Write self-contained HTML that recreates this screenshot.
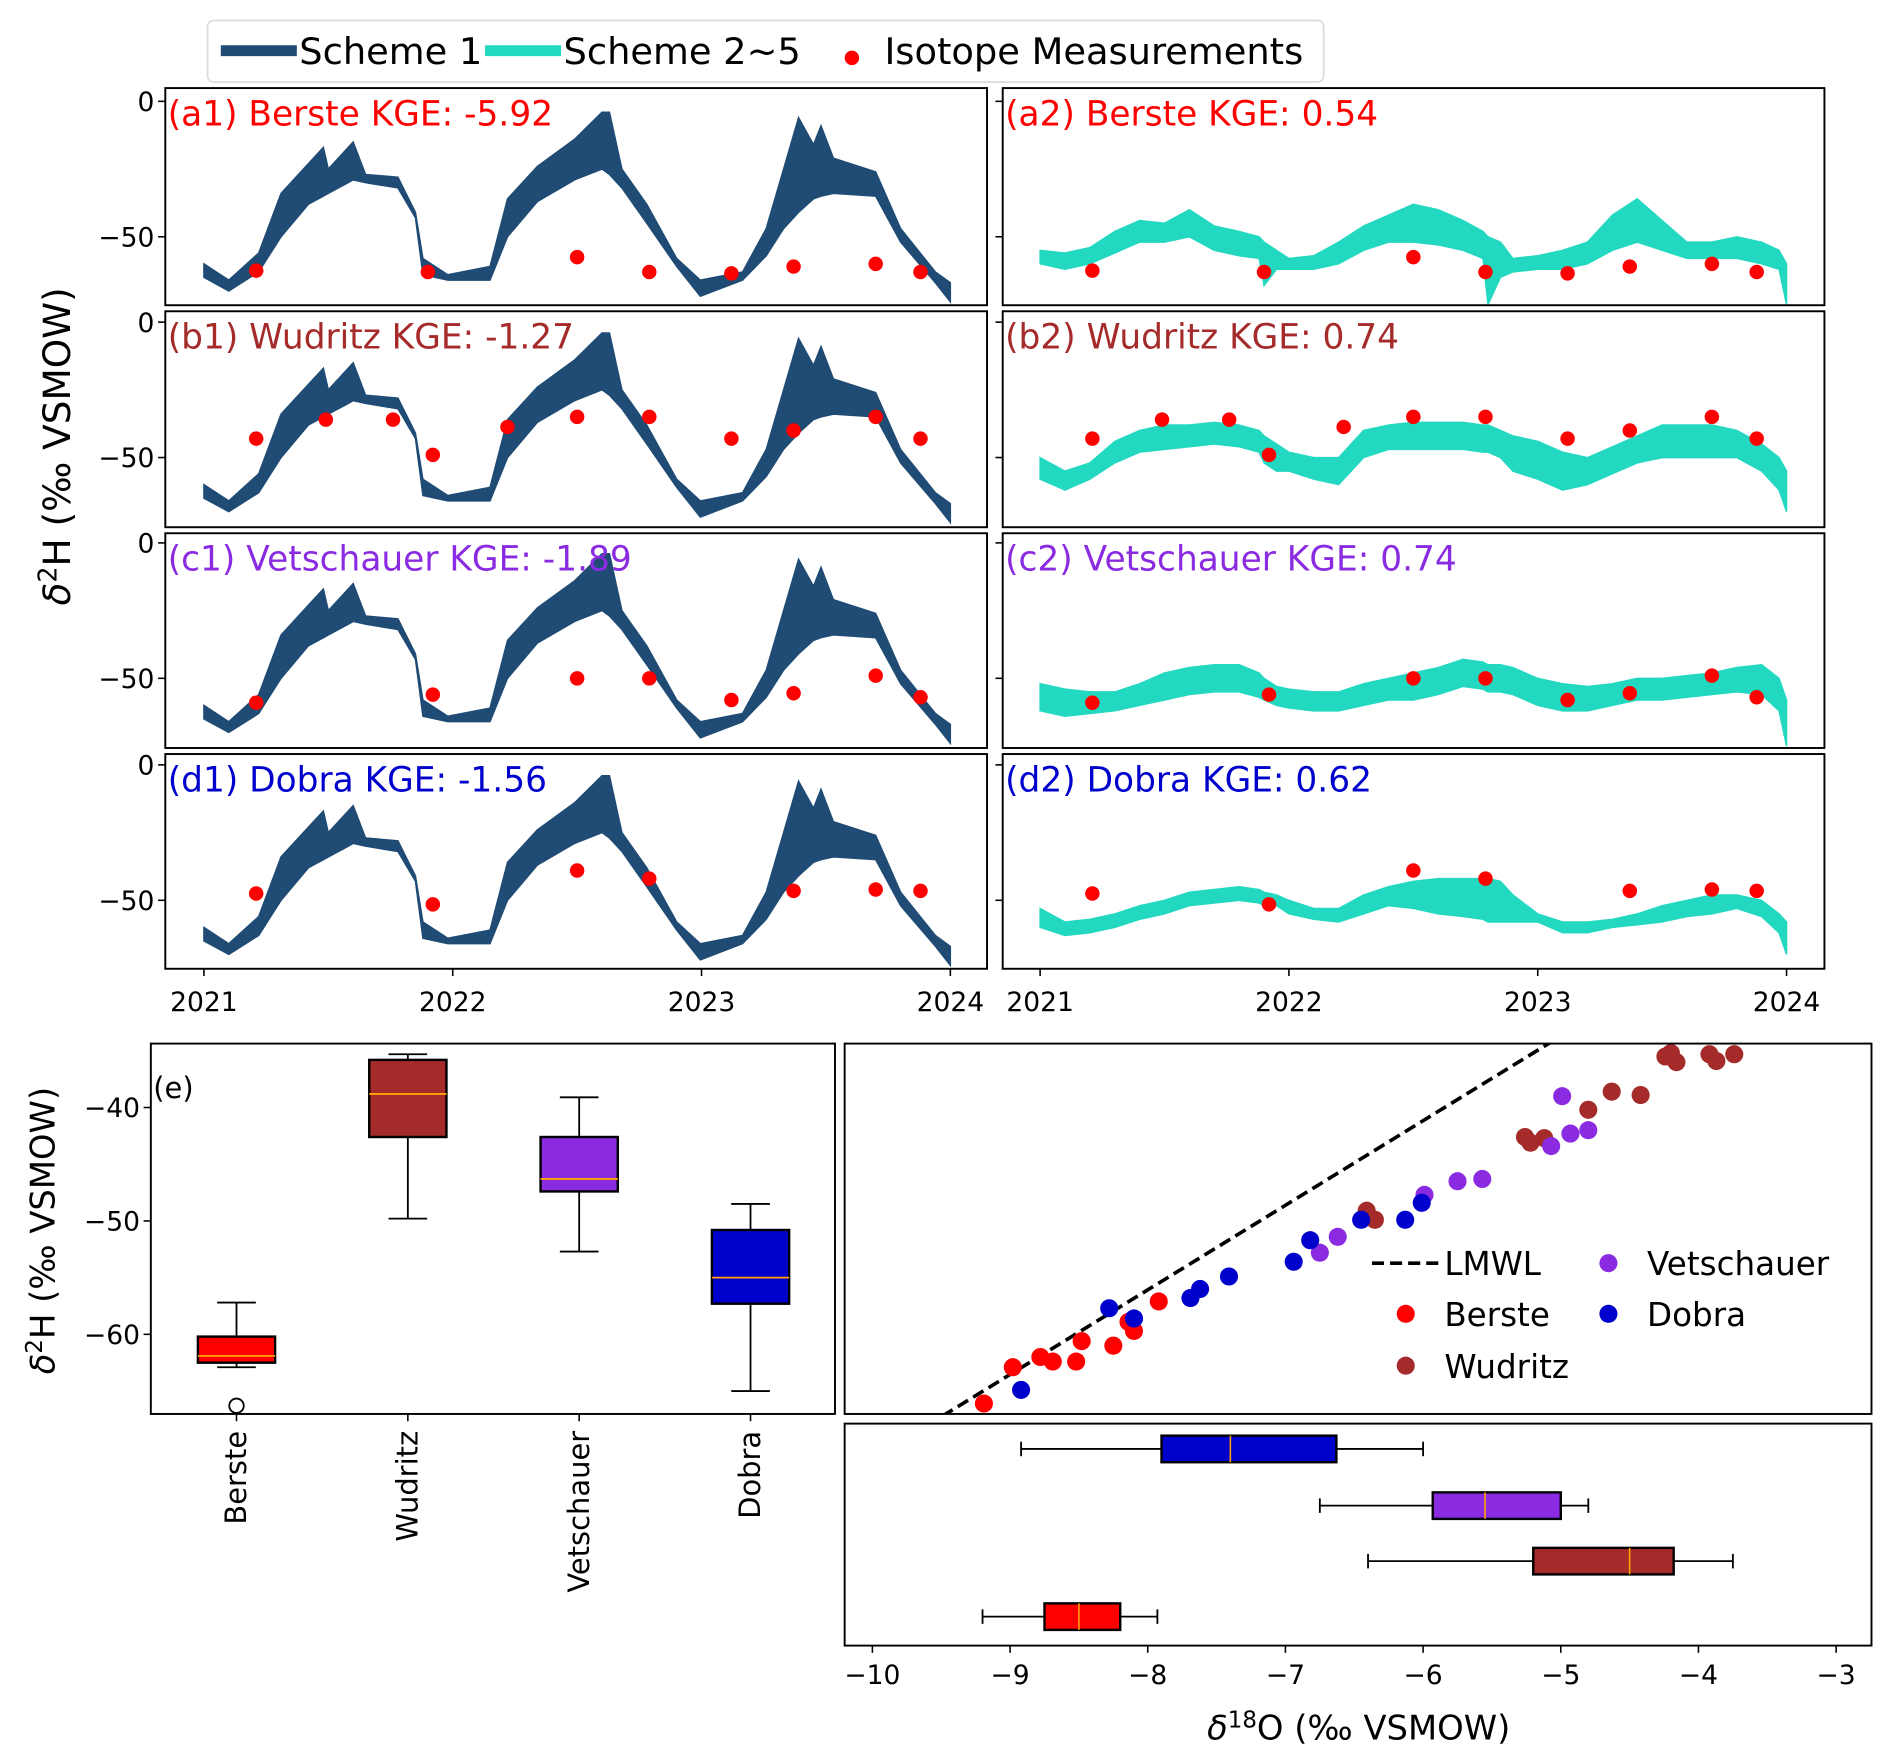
<!DOCTYPE html>
<html><head><meta charset="utf-8"><style>
html,body{margin:0;padding:0;background:#fff;}
svg{display:block;font-family:"DejaVu Sans","Liberation Sans",sans-serif;}
</style></head><body>
<svg id="fig" width="1892" height="1759" viewBox="0 0 1568 1458" preserveAspectRatio="none" xmlns="http://www.w3.org/2000/svg">
<g id="root"></g>
</svg>
<script>
// ---------- data ----------
const T1 = [0,0.10,0.22,0.31,0.42,0.48,0.50,0.58,0.60,0.65,0.78,0.85,0.88,0.98,1.15,1.22,1.34,1.49,1.60,1.63,1.68,1.78,1.90,1.995,2.165,2.26,2.33,2.39,2.45,2.48,2.53,2.70,2.80,2.94,3.0];
const s1Upper = [-60,-66,-56,-34,-23,-17,-25,-17,-15,-27,-28,-41,-58,-64,-61,-36,-24,-14,-4,-4,-25,-38,-58,-66,-63,-47,-25,-6,-16,-9,-21,-26,-47,-63,-67];
const s1Lower = [-65,-70,-63,-50,-38,-35,-34,-30,-29,-30,-32,-43,-64,-66,-66,-50,-37,-29,-25,-27,-32,-45,-61,-72,-66,-57,-47,-41,-36,-35,-34,-35,-52,-67,-74];
const T2 = [0,0.1,0.2,0.3,0.4,0.5,0.6,0.7,0.8,0.88,0.9,0.95,1.0,1.1,1.2,1.3,1.4,1.5,1.6,1.7,1.78,1.8,1.85,1.9,2.0,2.1,2.2,2.3,2.4,2.5,2.6,2.7,2.8,2.9,2.97,3.0];
const a2Upper = [-55,-56,-54,-48,-44,-45,-40,-46,-48,-50,-52,-55,-58,-57,-52,-46,-42,-38,-40,-44,-48,-50,-52,-58,-57,-55,-52,-42,-36,-44,-52,-52,-50,-52,-55,-60];
const a2Lower = [-60,-62,-60,-56,-52,-52,-50,-55,-57,-58,-68,-62,-62,-62,-60,-55,-52,-52,-53,-55,-58,-75,-65,-63,-62,-62,-60,-55,-52,-55,-58,-58,-58,-60,-62,-75];
const b2Upper = [-50,-55,-52,-44,-40,-38,-38,-37,-38,-40,-42,-45,-48,-50,-50,-40,-38,-37,-37,-37,-38,-38,-40,-42,-44,-48,-50,-46,-42,-38,-38,-38,-40,-45,-50,-55];
const b2Lower = [-58,-62,-58,-52,-48,-47,-46,-45,-46,-48,-52,-55,-55,-58,-60,-50,-47,-47,-47,-47,-48,-48,-50,-55,-58,-62,-60,-56,-52,-50,-50,-50,-50,-55,-62,-70];
const c2Upper = [-52,-54,-55,-55,-52,-48,-46,-45,-45,-48,-50,-53,-54,-55,-55,-52,-50,-48,-46,-43,-44,-45,-45,-46,-50,-52,-53,-52,-50,-50,-49,-48,-46,-45,-50,-58];
const c2Lower = [-62,-64,-63,-62,-60,-58,-56,-55,-55,-57,-58,-60,-61,-62,-62,-60,-58,-58,-56,-53,-54,-55,-55,-56,-60,-62,-62,-60,-58,-58,-57,-56,-55,-56,-62,-75];
const d2Upper = [-53,-58,-57,-55,-52,-50,-47,-46,-45,-46,-47,-48,-50,-53,-53,-48,-45,-43,-42,-42,-42,-42,-43,-48,-55,-58,-58,-57,-55,-52,-50,-48,-48,-50,-55,-58];
const d2Lower = [-60,-63,-62,-60,-57,-55,-52,-51,-50,-51,-52,-52,-55,-57,-58,-55,-52,-53,-55,-56,-57,-58,-58,-58,-58,-62,-62,-60,-59,-58,-56,-55,-53,-56,-62,-70];
const isoTBerste = [0.21,0.90,1.50,1.79,2.12,2.37,2.70,2.88];
const isoVBerste = [-62.5,-63,-57.5,-63,-63.5,-61,-60,-63];
const isoTWudritz = [0.21,0.49,0.76,0.92,1.22,1.50,1.79,2.12,2.37,2.70,2.88];
const isoVWudritz = [-43,-36,-36,-49,-38.7,-35,-35,-43,-40,-35,-43];
const isoTVet = [0.21,0.92,1.50,1.79,2.12,2.37,2.70,2.88];
const isoVVet = [-59,-56,-50,-50,-58,-55.5,-49,-57];
const isoTDobra = [0.21,0.92,1.50,1.79,2.37,2.70,2.88];
const isoVDobra = [-47.5,-51.5,-39,-42,-46.5,-46,-46.5];
const sites = ["Berste","Wudritz","Vetschauer","Dobra"];
const siteColors = ["#ff0000","#a52a2a","#8a2be2","#0000cd"];
const kge1 = ["-5.92","-1.27","-1.89","-1.56"];
const kge2 = ["0.54","0.74","0.74","0.62"];
const yearTicks = [2021,2022,2023,2024];
const boxH = [[-62.9,-62.5,-61.9,-60.2,-57.2],[-49.8,-42.6,-38.8,-35.8,-35.3],[-52.7,-47.4,-46.3,-42.6,-39.1],[-65,-57.3,-55,-50.8,-48.5]];
const outlierH = [[-66.3],[],[],[]];
const boxO = [[-9.2,-8.75,-8.5,-8.2,-7.93],[-6.4,-5.2,-4.5,-4.18,-3.75],[-6.75,-5.93,-5.55,-5.0,-4.8],[-8.92,-7.9,-7.4,-6.63,-6.0]];
const hTicks = [-40,-50,-60];
const oTicks = [-10,-9,-8,-7,-6,-5,-4,-3];
const bersteO = [-9.19,-8.98,-8.78,-8.69,-8.52,-8.48,-8.25,-8.14,-8.10,-7.92];
const bersteH = [-66.1,-62.9,-62.0,-62.4,-62.4,-60.6,-61.0,-58.9,-59.7,-57.1];
const dobraO = [-8.92,-8.28,-8.10,-7.69,-7.62,-7.41,-6.94,-6.82,-6.45,-6.13,-6.01];
const dobraH = [-64.9,-57.7,-58.6,-56.8,-56.0,-54.9,-53.6,-51.7,-49.9,-49.9,-48.4];
const vetO = [-6.75,-6.62,-5.99,-5.75,-5.57,-5.07,-4.93,-4.80,-4.99];
const vetH = [-52.8,-51.4,-47.7,-46.5,-46.3,-43.4,-42.3,-42.0,-39.0];
const wudO = [-6.41,-6.35,-5.26,-5.22,-5.12,-4.80,-4.63,-4.42,-4.24,-4.20,-4.16,-3.92,-3.87,-3.74];
const wudH = [-49.1,-49.9,-42.6,-43.1,-42.7,-40.2,-38.6,-38.9,-35.5,-35.2,-36.0,-35.3,-35.9,-35.3];
const lmwlSlope = 7.46, lmwlIntercept = 3.6;

// ---------- helpers ----------
const NS="http://www.w3.org/2000/svg";
const root=document.getElementById('root');
function el(tag,attrs,parent,txt){const e=document.createElementNS(NS,tag);for(const k in attrs)e.setAttribute(k,attrs[k]);if(txt!==undefined)e.textContent=txt;(parent||root).appendChild(e);return e;}
const C1="#1f4b74", C2="#22d8c0";

// ---------- legend ----------
const leg=el('g',{});


el('rect',{x:172,y:17,width:925,height:51,rx:5,fill:'#fff',stroke:'#ddd','stroke-width':1.5},leg);
el('line',{x1:183,y1:42,x2:246,y2:42,stroke:C1,'stroke-width':9},leg);
el('text',{x:248,y:53,'font-size':30.5},leg,'Scheme 1');
el('line',{x1:402,y1:42,x2:465,y2:42,stroke:C2,'stroke-width':9},leg);
el('text',{x:467,y:53,'font-size':30.5},leg,'Scheme 2~5');
el('circle',{cx:706,cy:48,r:6,fill:'red'},leg);
el('text',{x:733,y:53,'font-size':30.5},leg,'Isotope Measurements');

// ---------- time series panels ----------
const rows=[[73,253,84],[258,437,267],[442,620,450],[625,803,634]];
const cols=[[137,818,169],[831,1512,862]];
const yS=2.245, xS=206.2;
const s2U=[a2Upper,b2Upper,c2Upper,d2Upper], s2L=[a2Lower,b2Lower,c2Lower,d2Lower];
const isoT=[isoTBerste,isoTWudritz,isoTVet,isoTDobra], isoV=[isoVBerste,isoVWudritz,isoVVet,isoVDobra];
const letters=['a','b','c','d'];
const defs=el('defs',{});
rows.forEach((r,i)=>{
  cols.forEach((c,j)=>{
    const id='clip'+i+j;
    const cp=el('clipPath',{id:id},defs); el('rect',{x:c[0],y:r[0],width:c[1]-c[0],height:r[1]-r[0]},cp);
    const g=el('g',{});
    
    
    const X=t=>c[2]+t*xS, Y=v=>r[2]-v*yS;
    const T=j===0?T1:T2, U=j===0?s1Upper:s2U[i], L=j===0?s1Lower:s2L[i];
    let d='M'+T.map((t,k)=>X(t).toFixed(1)+','+Y(U[k]).toFixed(1)).join('L');
    for(let k=T.length-1;k>=0;k--) d+='L'+X(T[k]).toFixed(1)+','+Y(L[k]).toFixed(1);
    const band=el('path',{d:d+'Z',fill:j===0?C1:C2,stroke:j===0?C1:C2,'stroke-width':1.2,'clip-path':'url(#'+id+')'},g);
    
    
    isoT[i].forEach((t,k)=>{
      const p=el('circle',{cx:X(t),cy:Y(isoV[i][k]),r:6,fill:'red'},g);
      
      
    });
    el('rect',{x:c[0],y:r[0],width:c[1]-c[0],height:r[1]-r[0],fill:'none',stroke:'#000','stroke-width':1.6},g);
    [0,-50].forEach(v=>{
      el('line',{x1:c[0]-6,y1:Y(v),x2:c[0],y2:Y(v),stroke:'#000','stroke-width':1.3},g);
      if(j===0) el('text',{x:c[0]-9,y:Y(v)+8,'font-size':22,'text-anchor':'end'},g,v===0?'0':'\u221250');
    });
    const lab=el('text',{x:c[0]+2,y:r[0]+31,'font-size':28.5,fill:siteColors[i]},g,'('+letters[i]+(j+1)+') '+sites[i]+' KGE: '+(j===0?kge1[i]:kge2[i]));
    
    
    if(i===3){
      yearTicks.forEach(yr=>{
        const x=X(yr-2021);
        el('line',{x1:x,y1:r[1],x2:x,y2:r[1]+6,stroke:'#000','stroke-width':1.3},g);
        el('text',{x:x,y:r[1]+35,'font-size':22,'text-anchor':'middle'},g,String(yr));
      });
    }
  });
});
const yl=el('text',{x:0,y:0,'font-size':31,'text-anchor':'middle',transform:'translate(58,370) rotate(-90)'},root);


yl.innerHTML='<tspan font-style="italic">δ</tspan><tspan dy="-11" font-size="21">2</tspan><tspan dy="11">H (‰ VSMOW)</tspan>';

// ---------- box plot (e) ----------
const bx0=125,bx1=692,by0=865,by1=1172;
const HY=v=>918-(v+40)*9.4;
const catX=[196,338,480,622];
const ge=el('g',{});


boxH.forEach((b,i)=>{
  const x=catX[i], w=32;
  el('line',{x1:x,y1:HY(b[0]),x2:x,y2:HY(b[1]),stroke:'#000','stroke-width':1.5},ge);
  el('line',{x1:x,y1:HY(b[3]),x2:x,y2:HY(b[4]),stroke:'#000','stroke-width':1.5},ge);
  el('line',{x1:x-16,y1:HY(b[0]),x2:x+16,y2:HY(b[0]),stroke:'#000','stroke-width':1.5},ge);
  el('line',{x1:x-16,y1:HY(b[4]),x2:x+16,y2:HY(b[4]),stroke:'#000','stroke-width':1.5},ge);
  const r=el('rect',{x:x-w,y:HY(b[3]),width:2*w,height:HY(b[1])-HY(b[3]),fill:siteColors[i],stroke:'#000','stroke-width':2},ge);
  
  
  el('line',{x1:x-w,y1:HY(b[2]),x2:x+w,y2:HY(b[2]),stroke:'#ffa500','stroke-width':1.5},ge);
  outlierH[i].forEach(v=>el('circle',{cx:x,cy:HY(v),r:6,fill:'none',stroke:'#000','stroke-width':1.5},ge));
  el('line',{x1:x,y1:by1,x2:x,y2:by1+6,stroke:'#000','stroke-width':1.3},ge);
  el('text',{x:0,y:0,'font-size':24,'text-anchor':'end',transform:'translate('+(x+8)+','+(by1+14)+') rotate(-90)'},ge,sites[i]);
});
el('rect',{x:bx0,y:by0,width:bx1-bx0,height:by1-by0,fill:'none',stroke:'#000','stroke-width':1.6},ge);
hTicks.forEach(v=>{
  el('line',{x1:bx0-6,y1:HY(v),x2:bx0,y2:HY(v),stroke:'#000','stroke-width':1.3},ge);
  el('text',{x:bx0-9,y:HY(v)+8,'font-size':22,'text-anchor':'end'},ge,'\u2212'+(-v));
});
el('text',{x:127,y:910,'font-size':24},ge,'(e)');
const yl2=el('text',{x:0,y:0,'font-size':28,'text-anchor':'middle',transform:'translate(45,1020) rotate(-90)'},root);


yl2.innerHTML='<tspan font-style="italic">δ</tspan><tspan dy="-10" font-size="19">2</tspan><tspan dy="10">H (‰ VSMOW)</tspan>';

// ---------- scatter ----------
const sx0=700,sx1=1551;
const OX=v=>723+(v+10)*114.1;
const gs=el('g',{});


const cps=el('clipPath',{id:'clipS'},defs); el('rect',{x:sx0,y:by0,width:sx1-sx0,height:by1-by0},cps);
const lo=-10.5, hi=-3;
const lm=el('line',{x1:OX(lo),y1:HY(lmwlSlope*lo+lmwlIntercept),x2:OX(hi),y2:HY(lmwlSlope*hi+lmwlIntercept),stroke:'#000','stroke-width':3,'stroke-dasharray':'10,5','clip-path':'url(#clipS)'},gs);


[[bersteO,bersteH,0],[wudO,wudH,1],[vetO,vetH,2],[dobraO,dobraH,3]].forEach(([xo,yh,ci])=>{
  xo.forEach((v,k)=>{
    const p=el('circle',{cx:OX(v),cy:HY(yh[k]),r:7.5,fill:siteColors[ci]},gs);
    
    
  });
});
el('rect',{x:sx0,y:by0,width:sx1-sx0,height:by1-by0,fill:'none',stroke:'#000','stroke-width':1.6},gs);
const sl=el('g',{},gs);


el('line',{x1:1137,y1:1047,x2:1192,y2:1047,stroke:'#000','stroke-width':3,'stroke-dasharray':'10,5'},sl);
el('text',{x:1197,y:1057,'font-size':27},sl,'LMWL');
[[1165,1089,0],[1165,1132,1],[1333,1047,2],[1333,1089,3]].forEach(([x,y,ci])=>{
  el('circle',{cx:x,cy:y,r:7.5,fill:siteColors[ci]},sl);
  el('text',{x:x+32,y:y+10,'font-size':27},sl,sites[ci]);
});

// ---------- horizontal boxplot ----------
const hb0=1180,hb1=1364;
const rowY=[1340,1294,1248,1201];
const gh=el('g',{});


boxO.forEach((b,i)=>{
  const y=rowY[i], h=11;
  el('line',{x1:OX(b[0]),y1:y,x2:OX(b[1]),y2:y,stroke:'#000','stroke-width':1.5},gh);
  el('line',{x1:OX(b[3]),y1:y,x2:OX(b[4]),y2:y,stroke:'#000','stroke-width':1.5},gh);
  el('line',{x1:OX(b[0]),y1:y-6,x2:OX(b[0]),y2:y+6,stroke:'#000','stroke-width':1.5},gh);
  el('line',{x1:OX(b[4]),y1:y-6,x2:OX(b[4]),y2:y+6,stroke:'#000','stroke-width':1.5},gh);
  const r=el('rect',{x:OX(b[1]),y:y-h,width:OX(b[3])-OX(b[1]),height:2*h,fill:siteColors[i],stroke:'#000','stroke-width':2},gh);
  
  
  el('line',{x1:OX(b[2]),y1:y-h,x2:OX(b[2]),y2:y+h,stroke:'#ffa500','stroke-width':1.3},gh);
});
el('rect',{x:sx0,y:hb0,width:sx1-sx0,height:hb1-hb0,fill:'none',stroke:'#000','stroke-width':1.6},gh);
oTicks.forEach(v=>{
  el('line',{x1:OX(v),y1:hb1,x2:OX(v),y2:hb1+6,stroke:'#000','stroke-width':1.3},gh);
  el('text',{x:OX(v),y:hb1+32,'font-size':22,'text-anchor':'middle'},gh,'\u2212'+(-v));
});
const xl=el('text',{x:1126,y:1442,'font-size':28,'text-anchor':'middle'},root);


xl.innerHTML='<tspan font-style="italic">δ</tspan><tspan dy="-10" font-size="19">18</tspan><tspan dy="10">O (‰ VSMOW)</tspan>';
</script>
</body></html>
